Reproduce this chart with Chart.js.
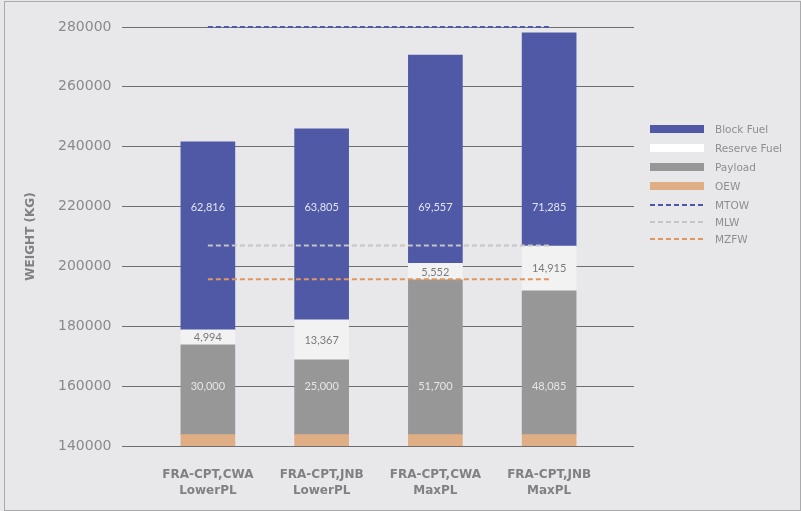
<!DOCTYPE html>
<html>
<head>
<meta charset="utf-8">
<script src="https://cdn.jsdelivr.net/npm/chart.js@4.4.1/dist/chart.umd.min.js"></script>
<style>
  body { margin: 0; background: #e8e8ea; }
  #wrap { position: relative; width: 801px; height: 511px; background: #e8e8ea; }
  #frame { position: absolute; left: 4px; top: 1px; width: 795px; height: 508px; border: 1px solid #aaaaac; pointer-events: none; }
  #legend { position: absolute; left: 650px; top: 119.5px; font-family: 'DejaVu Sans'; font-size: 10.5px; color: #8e8e90; }
  #legend .row { display: flex; align-items: center; height: 19px; }
  #legend .row.line { height: 17px; }
  #legend .row.line.first { margin-top: 0.5px; }
  #legend .sw { width: 54px; height: 8px; margin-right: 11px; }
  #legend svg { display: block; margin-right: 11px; }
</style>
</head>
<body>
<div id="wrap">
  <canvas id="weightChart"></canvas>
  <div id="legend"></div>
  <div id="frame"></div>
</div>
<script>
const categories = [
  ['FRA-CPT,CWA', 'LowerPL'],
  ['FRA-CPT,JNB', 'LowerPL'],
  ['FRA-CPT,CWA', 'MaxPL'],
  ['FRA-CPT,JNB', 'MaxPL']
];
const oew = [143800, 143800, 143800, 143800];
const payload = [30000, 25000, 51700, 48085];
const reserveFuel = [4994, 13367, 5552, 14915];
const blockFuel = [62816, 63805, 69557, 71285];
const mtow = [280000, 280000, 280000, 280000];
const mlw = [207000, 207000, 207000, 207000];
const mzfw = [195700, 195700, 195700, 195700];
const yTicks = [140000, 160000, 180000, 200000, 220000, 240000, 260000, 280000];

const fmt = v => v.toLocaleString('en-US');

// value labels on the bar segments
const segmentLabels = {
  id: 'segmentLabels',
  afterDatasetsDraw(chart) {
    const { ctx } = chart;
    const yScale = chart.scales.y;
    ctx.save();
    ctx.font = '11px Lato';
    ctx.textAlign = 'center';
    ctx.textBaseline = 'middle';
    chart.data.datasets.forEach((ds, i) => {
      if (!ds.labelColor) return;
      chart.getDatasetMeta(i).data.forEach((bar, j) => {
        const p = bar.getProps(['x', 'y', 'base'], true);
        const cy = ds.labelAt != null ? yScale.getPixelForValue(ds.labelAt) : (p.y + p.base) / 2;
        ctx.fillStyle = ds.labelColor;
        ctx.fillText(fmt(ds.data[j]), p.x, cy + 0.5);
      });
    });
    ctx.restore();
  }
};

// horizontal grid lines run a bit past the right edge of the plot
const gridTail = {
  id: 'gridTail',
  beforeDatasetsDraw(chart) {
    const { ctx, chartArea } = chart;
    const yScale = chart.scales.y;
    ctx.save();
    ctx.strokeStyle = '#6f6f71';
    ctx.lineWidth = 1;
    yScale.ticks.forEach(t => {
      const y = Math.round(yScale.getPixelForValue(t.value) - 0.5) + 0.5;
      ctx.beginPath();
      ctx.moveTo(chartArea.right, y);
      ctx.lineTo(chartArea.right + 28, y);
      ctx.stroke();
    });
    ctx.restore();
  }
};

const datasets = [
  { label: 'OEW', data: oew, backgroundColor: '#dfae85', order: 1, barThickness: 54 },
  { label: 'Payload', data: payload, backgroundColor: '#979797', order: 1, barThickness: 54,
    labelColor: '#e6e6e6', labelAt: 160000 },
  { label: 'Reserve Fuel', data: reserveFuel, backgroundColor: '#f2f2f3', order: 1, barThickness: 54,
    labelColor: '#7a7a7c' },
  { label: 'Block Fuel', data: blockFuel, backgroundColor: '#4f59a5', order: 1, barThickness: 54,
    labelColor: '#e2e4f1', labelAt: 220000 },
  { type: 'line', label: 'MTOW', data: mtow, stack: 'mtow', borderColor: '#4f59a8', borderDash: [5, 3],
    borderWidth: 2, pointRadius: 0, order: 0, clip: false },
  { type: 'line', label: 'MLW', data: mlw, stack: 'mlw', borderColor: '#c4c4c6', borderDash: [5, 3],
    borderWidth: 2, pointRadius: 0, order: 0, clip: false },
  { type: 'line', label: 'MZFW', data: mzfw, stack: 'mzfw', borderColor: '#e0965e', borderDash: [5, 3],
    borderWidth: 2, pointRadius: 0, order: 0, clip: false }
];

new Chart(document.getElementById('weightChart'), {
  type: 'bar',
  data: { labels: categories, datasets },
  options: {
    responsive: true,
    maintainAspectRatio: false,
    animation: false,
    layout: { padding: { left: 58, right: 195, top: 27, bottom: 0 } },
    scales: {
      x: {
        stacked: true,
        grid: { display: false, drawTicks: false },
        border: { display: false },
        ticks: {
          padding: 20,
          color: '#818183',
          font: { family: 'DejaVu Sans', size: 12, weight: 'bold', lineHeight: 1.4 }
        },
        afterFit: s => { s.height = 65; }
      },
      y: {
        stacked: true,
        min: 140000,
        max: 280000,
        afterBuildTicks: s => { s.ticks = yTicks.map(v => ({ value: v })); },
        grid: { color: '#6f6f71', lineWidth: 1, tickLength: 29, drawTicks: true },
        border: { display: false },
        ticks: {
          crossAlign: 'far',
          padding: 10,
          color: '#8a8a8c',
          font: { family: 'DejaVu Sans', size: 14 },
          callback: v => String(v)
        },
        title: {
          display: true,
          text: 'WEIGHT (KG)',
          color: '#818183',
          padding: { top: -34, bottom: 0 },
          font: { family: 'DejaVu Sans', size: 12, weight: 'bold' }
        },
        afterFit: s => { s.width = 93; }
      }
    },
    plugins: {
      legend: { display: false },
      tooltip: { enabled: false }
    }
  },
  plugins: [segmentLabels, gridTail]
});

// legend, in the order of the reference
const legendItems = [
  { name: 'Block Fuel', color: '#4f59a5' },
  { name: 'Reserve Fuel', color: '#ffffff' },
  { name: 'Payload', color: '#979797' },
  { name: 'OEW', color: '#dfae85' },
  { name: 'MTOW', color: '#4f59a8', dash: true },
  { name: 'MLW', color: '#c4c4c6', dash: true },
  { name: 'MZFW', color: '#e0965e', dash: true }
];
const legend = document.getElementById('legend');
let firstLine = true;
legendItems.forEach(it => {
  const row = document.createElement('div');
  row.className = 'row' + (it.dash ? ' line' + (firstLine ? ' first' : '') : '');
  if (it.dash) {
    firstLine = false;
    row.innerHTML = '<svg width="54" height="8"><line x1="0" y1="4" x2="54" y2="4" stroke="' + it.color +
      '" stroke-width="2" stroke-dasharray="5 3"/></svg>';
  } else {
    row.innerHTML = '<div class="sw" style="background:' + it.color + '"></div>';
  }
  const txt = document.createElement('span');
  txt.textContent = it.name;
  row.appendChild(txt);
  legend.appendChild(row);
});
</script>
</body>
</html>
